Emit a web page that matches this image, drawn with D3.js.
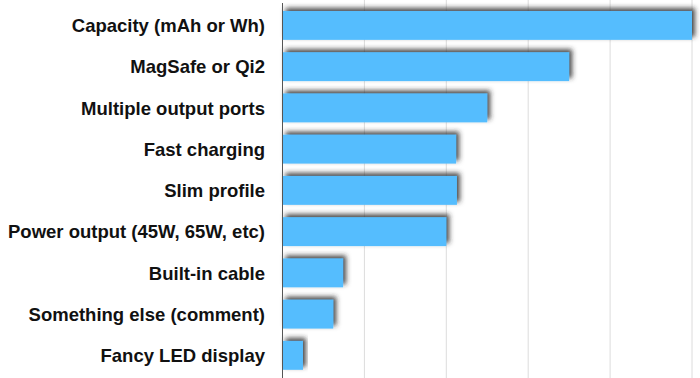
<!DOCTYPE html>
<html>
<head>
<meta charset="utf-8">
<script src="https://cdn.jsdelivr.net/npm/d3@7"></script>
<style>
  body { margin: 0; background: #fff; }
  .label { font-family: "Liberation Sans", Arial, sans-serif; font-weight: bold; font-size: 18.5px; fill: #111; }
</style>
</head>
<body>
<div id="chart"></div>
<script>
// survey answers, top to bottom
const features = [
  "Capacity (mAh or Wh)",
  "MagSafe or Qi2",
  "Multiple output ports",
  "Fast charging",
  "Slim profile",
  "Power output (45W, 65W, etc)",
  "Built-in cable",
  "Something else (comment)",
  "Fancy LED display"
];
const shares = [50, 35, 25, 21.2, 21.3, 20, 7.4, 6.2, 2.5];
const gridTicks = [10, 20, 30, 40, 50];

let width = 700,
  height = 378,
  margin = ({ top: 0, right: 8, bottom: 0, left: 282.5 });

const svg = d3.select("#chart")
  .append("svg")
  .attr("width", width)
  .attr("height", height);

// soft dark shadow up and to the right of each bar
const defs = svg.append("defs");
const f = defs.append("filter")
  .attr("id", "shadow")
  .attr("x", "-10%").attr("y", "-40%")
  .attr("width", "130%").attr("height", "180%");
f.append("feDropShadow")
  .attr("dx", 3)
  .attr("dy", -3)
  .attr("stdDeviation", 2.4)
  .attr("flood-color", "#2a2a2a")
  .attr("flood-opacity", 0.85);

let x = d3.scaleLinear()
  .domain([0, 50])
  .range([margin.left, 692]);

let y = d3.scaleBand()
  .domain(features)
  .range([4.8, 376])
  .paddingInner(0.3)
  .paddingOuter(0.15);

// vertical gridlines
svg.append("g")
  .selectAll("line")
  .data(gridTicks)
  .join("line")
  .attr("x1", d => x(d))
  .attr("x2", d => x(d))
  .attr("y1", 0)
  .attr("y2", height)
  .attr("stroke", "#dcdcdc")
  .attr("stroke-width", 1);

// bars
svg.append("g")
  .attr("fill", "#55bdfe")
  .selectAll("rect")
  .data(shares)
  .join("rect")
  .attr("x", x(0))
  .attr("y", (d, i) => y(features[i]))
  .attr("width", d => x(d) - x(0))
  .attr("height", y.bandwidth())
  .attr("filter", "url(#shadow)");

// baseline
svg.append("line")
  .attr("x1", x(0)).attr("x2", x(0))
  .attr("y1", 3).attr("y2", height)
  .attr("stroke", "#555")
  .attr("stroke-width", 1);

// category labels
svg.append("g")
  .selectAll("text")
  .data(features)
  .join("text")
  .attr("class", "label")
  .attr("text-anchor", "end")
  .attr("x", 265)
  .attr("y", d => y(d) + y.bandwidth() / 2)
  .attr("dy", "0.36em")
  .text(d => d);
</script>
</body>
</html>
